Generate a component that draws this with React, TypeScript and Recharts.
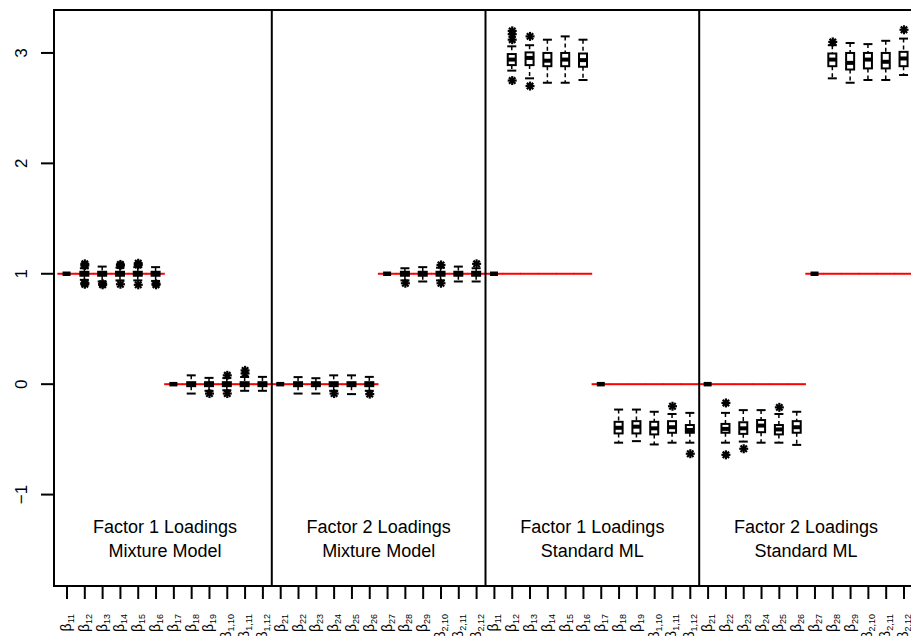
import React from "react";
import {
  ComposedChart,
  Bar,
  Scatter,
  XAxis,
  YAxis,
  ReferenceLine,
  ReferenceArea,
} from "recharts";

// subscripts of the beta labels, one panel of 12 categories each
const factor1Subs = ["11", "12", "13", "14", "15", "16", "17", "18", "19", "1,10", "1,11", "1,12"];
const factor2Subs = ["21", "22", "23", "24", "25", "26", "27", "28", "29", "2,10", "2,11", "2,12"];
const subscripts = [...factor1Subs, ...factor2Subs, ...factor1Subs, ...factor2Subs];

// true loading values (red lines)
const trueValues = [
  1, 1, 1, 1, 1, 1, 0, 0, 0, 0, 0, 0,
  0, 0, 0, 0, 0, 0, 1, 1, 1, 1, 1, 1,
  1, 1, 1, 1, 1, 1, 0, 0, 0, 0, 0, 0,
  0, 0, 0, 0, 0, 0, 1, 1, 1, 1, 1, 1,
];

// box statistics per category
const lowerWhisker = [
  1, 0.945, 0.93, 0.94, 0.94, 0.935, 0, -0.085, -0.06, -0.055, -0.06, -0.06,
  0, -0.085, -0.085, -0.06, -0.09, -0.06, 1, 0.94, 0.93, 0.94, 0.93, 0.93,
  1, 2.84, 2.77, 2.73, 2.73, 2.755, 0, -0.53, -0.516, -0.546, -0.53, -0.53,
  0, -0.53, -0.52, -0.53, -0.53, -0.55, 1, 2.77, 2.73, 2.755, 2.755, 2.8,
];
const lowerQuartile = [
  1, 0.982, 0.982, 0.982, 0.982, 0.982, 0, -0.018, -0.018, -0.018, -0.018, -0.018,
  0, -0.018, -0.018, -0.018, -0.018, -0.018, 1, 0.982, 0.982, 0.982, 0.982, 0.982,
  1, 2.89, 2.89, 2.88, 2.88, 2.875, 0, -0.446, -0.446, -0.455, -0.44, -0.44,
  0, -0.44, -0.45, -0.435, -0.455, -0.44, 1, 2.88, 2.85, 2.86, 2.86, 2.88,
];
const medians = [
  1, 1, 1, 1, 1, 1, 0, 0, 0, 0, 0, 0,
  0, 0, 0, 0, 0, 0, 1, 1, 1, 1, 1, 1,
  1, 2.94, 2.955, 2.93, 2.94, 2.935, 0, -0.395, -0.385, -0.4, -0.39, -0.415,
  0, -0.405, -0.4, -0.375, -0.41, -0.39, 1, 2.94, 2.91, 2.94, 2.92, 2.95,
];
const upperQuartile = [
  1, 1.018, 1.018, 1.018, 1.018, 1.018, 0, 0.018, 0.018, 0.018, 0.018, 0.018,
  0, 0.018, 0.018, 0.018, 0.018, 0.018, 1, 1.018, 1.018, 1.018, 1.018, 1.018,
  1, 2.99, 3.005, 3.0, 3.0, 2.995, 0, -0.341, -0.335, -0.341, -0.335, -0.37,
  0, -0.36, -0.345, -0.325, -0.37, -0.335, 1, 2.995, 3.0, 3.0, 3.0, 3.01,
];
const upperWhisker = [
  1, 1.05, 1.065, 1.055, 1.06, 1.06, 0, 0.08, 0.057, 0.055, 0.065, 0.066,
  0, 0.064, 0.054, 0.08, 0.08, 0.066, 1, 1.05, 1.06, 1.055, 1.065, 1.05,
  1, 3.06, 3.07, 3.12, 3.15, 3.12, 0, -0.23, -0.23, -0.25, -0.27, -0.26,
  0, -0.26, -0.235, -0.235, -0.27, -0.25, 1, 3.07, 3.09, 3.08, 3.11, 3.13,
];
const outliers: number[][] = [
  [], [1.075, 1.09, 0.905, 0.915], [0.9, 0.91], [1.075, 1.085, 0.905], [1.08, 1.095, 0.9], [0.91, 0.9],
  [], [], [-0.085], [0.08, -0.085], [0.097, 0.125], [],
  [], [], [], [-0.085], [], [-0.09],
  [], [0.914], [], [1.08, 0.914], [], [1.09],
  [], [3.2, 3.17, 3.12, 2.75], [3.15, 2.7], [], [], [],
  [], [], [], [], [-0.2], [-0.63],
  [], [-0.17, -0.64], [-0.585], [], [-0.21], [],
  [], [3.1], [], [], [], [3.21],
];

const panelTitles = ["Factor 1 Loadings", "Factor 2 Loadings", "Factor 1 Loadings", "Factor 2 Loadings"];
const panelModels = ["Mixture Model", "Mixture Model", "Standard ML", "Standard ML"];

const yTicks = [-1, 0, 1, 2, 3];

const CHART_W = 930;
const MARGIN_R = 13;
const AXIS_W = 54;
const X_MIN = 0.27;
const X_MAX = 48.73;
const Y_MIN = -1.828;
const Y_MAX = 3.389;
const FONT = "'Liberation Sans', Arial, sans-serif";
// pixel width of one category slot
const SLOT = (CHART_W - MARGIN_R - AXIS_W) / (X_MAX - X_MIN);

const rows = subscripts.map((_, i) => ({
  x: i + 1,
  lo: lowerWhisker[i],
  q1: lowerQuartile[i],
  med: medians[i],
  q3: upperQuartile[i],
  hi: upperWhisker[i],
  truth: trueValues[i],
}));

const outlierPoints = outliers.flatMap((vals, i) => vals.map((v) => ({ x: i + 1, y: v })));
const titlePoints = panelTitles.map((t, p) => ({ x: p * 12 + 6.5, y: -1.294, t, m: panelModels[p] }));

// the bar covers [lo, hi]; other stats are placed on the same linear scale,
// the red true-value segment is drawn first so the box sits on top of it
const BoxShape = (props: any) => {
  const { x, y, width, height, payload } = props;
  const top = Math.min(y, y + height);
  const h = Math.abs(height);
  const span = payload.hi - payload.lo;
  const cx = x + width / 2;
  const red = (yy: number) => (
    <line x1={cx - SLOT / 2 - 0.3} x2={cx + SLOT / 2 + 0.3} y1={yy} y2={yy} stroke="#ff0000" strokeWidth={2} />
  );
  if (span === 0) {
    return (
      <g>
        {red(top)}
        <line x1={x} x2={x + width} y1={top} y2={top} stroke="#000" strokeWidth={4.5} />
      </g>
    );
  }
  const py = (v: number) => top + ((payload.hi - v) / span) * h;
  const cap = 4.5;
  return (
    <g>
      {red(py(payload.truth))}
      <line x1={cx} x2={cx} y1={py(payload.hi)} y2={py(payload.q3)} stroke="#000" strokeWidth={1.5} strokeDasharray="4 3" />
      <line x1={cx} x2={cx} y1={py(payload.q1)} y2={py(payload.lo)} stroke="#000" strokeWidth={1.5} strokeDasharray="4 3" />
      <line x1={cx - cap} x2={cx + cap} y1={py(payload.hi)} y2={py(payload.hi)} stroke="#000" strokeWidth={2} />
      <line x1={cx - cap} x2={cx + cap} y1={py(payload.lo)} y2={py(payload.lo)} stroke="#000" strokeWidth={2} />
      <rect x={x} y={py(payload.q3)} width={width} height={py(payload.q1) - py(payload.q3)} fill="#fff" stroke="#000" strokeWidth={2} />
      <line x1={x} x2={x + width} y1={py(payload.med)} y2={py(payload.med)} stroke="#000" strokeWidth={4} />
    </g>
  );
};

const Asterisk = (props: any) => {
  const { cx, cy } = props;
  const r = 4.5;
  const d = 3.2;
  return (
    <g stroke="#000" strokeWidth={2.2}>
      <line x1={cx - r} x2={cx + r} y1={cy} y2={cy} />
      <line x1={cx} x2={cx} y1={cy - r} y2={cy + r} />
      <line x1={cx - d} x2={cx + d} y1={cy - d} y2={cy + d} />
      <line x1={cx - d} x2={cx + d} y1={cy + d} y2={cy - d} />
    </g>
  );
};

const PanelTitle = (props: any) => {
  const { cx, cy, payload } = props;
  return (
    <text x={cx} y={cy + 6} textAnchor="middle" fontSize={18} fontFamily={FONT} fill="#000">
      <tspan x={cx}>{payload.t}</tspan>
      <tspan x={cx} dy={24}>{payload.m}</tspan>
    </text>
  );
};

const XTick = (props: any) => {
  const { x, y, payload } = props;
  const bx = x + 4;
  const by = y + 13;
  return (
    <text x={bx} y={by} transform={`rotate(-90, ${bx}, ${by})`} textAnchor="end" fontFamily={FONT} fill="#000">
      <tspan fontSize={14}>β</tspan>
      <tspan fontSize={9} dy={3}>{subscripts[payload.value - 1]}</tspan>
    </text>
  );
};

const YTick = (props: any) => {
  const { y, payload } = props;
  const bx = 27;
  const label = payload.value < 0 ? "\u2212" + Math.abs(payload.value) : String(payload.value);
  return (
    <text x={bx} y={y} transform={`rotate(-90, ${bx}, ${y})`} textAnchor="middle" fontSize={17} fontFamily={FONT} fill="#000">
      {label}
    </text>
  );
};

export default function App() {
  return (
    <div style={{ position: "absolute", left: 0, top: 0, width: 911, height: 636, overflow: "hidden", background: "#fff" }}>
      <ComposedChart width={CHART_W} height={636} data={rows} margin={{ top: 10, right: MARGIN_R, bottom: 0, left: 0 }}>
        <XAxis
          dataKey="x"
          type="number"
          domain={[X_MIN, X_MAX]}
          allowDataOverflow
          ticks={rows.map((r) => r.x)}
          interval={0}
          height={50}
          tickSize={13}
          axisLine={false}
          tickLine={{ stroke: "#000", strokeWidth: 2 }}
          tick={<XTick />}
        />
        <YAxis
          type="number"
          domain={[Y_MIN, Y_MAX]}
          allowDataOverflow
          ticks={yTicks}
          interval={0}
          width={AXIS_W}
          tickSize={13}
          axisLine={false}
          tickLine={{ stroke: "#000", strokeWidth: 2 }}
          tick={<YTick />}
        />
        <Bar dataKey={(d: any) => [d.lo, d.hi]} barSize={16} shape={<BoxShape />} isAnimationActive={false} />
        <Scatter data={outlierPoints} dataKey="y" shape={<Asterisk />} isAnimationActive={false} />
        {[12.5, 24.5, 36.5].map((v) => (
          <ReferenceLine key={"d" + v} x={v} stroke="#000" strokeWidth={2} />
        ))}
        <Scatter data={titlePoints} dataKey="y" shape={<PanelTitle />} isAnimationActive={false} />
        <ReferenceArea x1={X_MIN} x2={X_MAX} y1={Y_MIN} y2={Y_MAX} fill="none" stroke="#000" strokeWidth={2} ifOverflow="visible" />
      </ComposedChart>
    </div>
  );
}
